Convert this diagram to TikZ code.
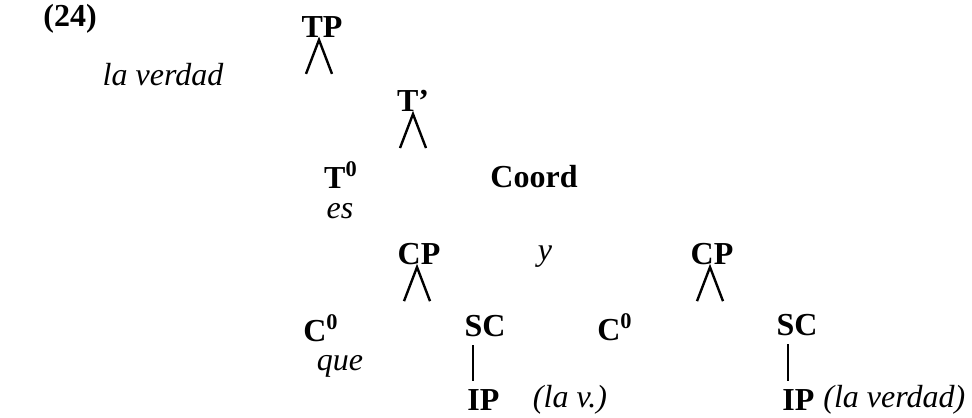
\documentclass[tikz,border=0pt]{standalone}
\usepackage{fontspec}
\setmainfont{Liberation Serif}
\begin{document}
\begin{tikzpicture}
    [
    x=0.5pt, y=-0.5pt, font=\fontsize{16}{18}\selectfont\bfseries,
    every node/.style={inner sep=0pt},
    word/.style={font=\fontsize{16}{18}\selectfont\itshape},
    stub/.style={line width=1.2pt}
    %Koordinaten in Pixeln, y nach unten
    ]
    \useasboundingbox (0,0) rectangle (972,417);
    
    %Nummer und Spezifikator
    \node (num) at (70,19) {(24)};
    \node[word] (spec) at (163,75) {la verdad};
    
    %Knoten
    \node (tp) at (322,27) {TP};
    \node (tb) at (413,101) {T’};
    \node (t0) at (341,175) {T\textsuperscript{0}};
    \node[word] (es) at (340,211) {es};
    \node (coord) at (534,177) {Coord};
    \node (cpl) at (419,254) {CP};
    \node[word] (y) at (545,257) {y};
    \node (cpr) at (712,254) {CP};
    \node (c0l) at (321,328) {C\textsuperscript{0}};
    \node[word] (que) at (340,366) {que};
    \node (scl) at (485,326) {SC};
    \node (c0r) at (615,327) {C\textsuperscript{0}};
    \node (scr) at (797,325) {SC};
    \node[anchor=west] (ipl) at (467,400) {IP};
    \node[word] (lav) at (570,400) {(la v.)};
    \node[anchor=west] (ipr) at (782,400) {IP};
    \node[word, anchor=west] (lavr) at (823,400) {(la verdad)};
    
    %Verzweigungen
    \foreach \n/\dx in {tp/-1.5pt, tb/0pt, cpl/-1pt, cpr/-1pt}
    \draw[stub] ([xshift=\dx, yshift=-1pt]\n.south) ++(-6.5pt,-17pt)
    -- ([xshift=\dx, yshift=-1pt]\n.south) -- ++(6.5pt,-17pt);
    
    %SC - IP
    \draw[line width=0.8pt] ([xshift=-6pt, yshift=-4pt]scl.south) -- ([xshift=-6pt, yshift=4pt]ipl.north -| scl.south);
    \draw[line width=0.8pt] ([xshift=-4.5pt, yshift=-4pt]scr.south) -- ([xshift=-4.5pt, yshift=4pt]ipr.north -| scr.south);
\end{tikzpicture}
\end{document}
